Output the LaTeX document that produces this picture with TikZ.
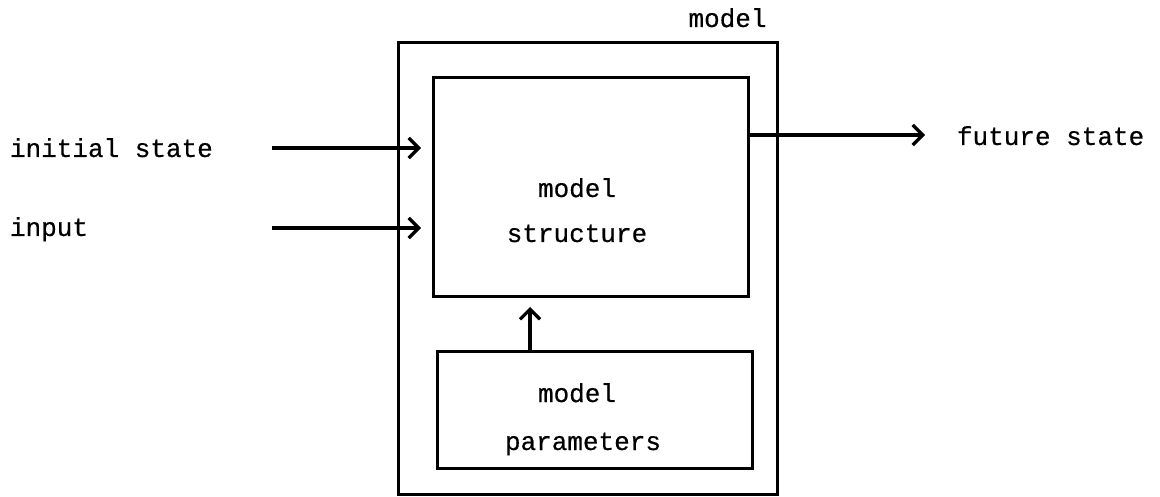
\documentclass[tikz,border=0pt]{standalone}
\usepackage{fontspec}
\setmonofont[FakeBold=0.5]{Liberation Mono}
\usetikzlibrary{arrows.meta}
\tikzset{
  box/.style={draw=black, line width=3pt, minimum width=#1, inner sep=0pt, outer sep=0pt},
  txt/.style={font=\fontsize{26}{30}\selectfont\ttfamily, inner sep=0pt, outer sep=0pt},
  arr/.style={line width=3.2pt, -{Straight Barb[length=10pt, width=20pt, line width=3.2pt]}},
}
\begin{document}
\begin{tikzpicture}[x=1pt, y=-1pt]
\useasboundingbox (0,0) rectangle (1160,497);
% boxes
\node[box=379pt, minimum height=451pt] (outer) at (587.5,268.5) {};
\node[box=315pt, minimum height=219pt] (struct) at (590.5,187.5) {};
\node[box=315pt, minimum height=117pt] (params) at (594.5,409.5) {};
% texts
\node[txt, anchor=base] (mlabel) at (727.5,27) {model};
\node[txt, anchor=base] (s1) at (577,197) {model};
\node[txt, anchor=base] (s2) at (577,242) {structure};
\node[txt, anchor=base] (p1) at (577,402) {model};
\node[txt, anchor=base] (p2) at (583,450) {parameters};
\node[txt, anchor=base west] (init) at (10,157) {initial state};
\node[txt, anchor=base west] (inp) at (10,236) {input};
\node[txt, anchor=base west] (fut) at (957,145) {future state};
% arrow ends
\coordinate (a1) at (272,148);
\coordinate (a2) at (272,228);
\coordinate (a3) at (748,135);
\coordinate (a4) at (530,351);
% connectors
\draw[arr, shorten >=12pt] (a1) -- (struct.west |- a1);
\draw[arr, shorten >=12pt] (a2) -- (struct.west |- a2);
\draw[arr, shorten >=32pt] (struct.east |- a3) -- (fut.west |- a3);
\draw[arr, shorten >=10pt] (params.north -| a4) -- (struct.south -| a4);
\end{tikzpicture}
\end{document}
